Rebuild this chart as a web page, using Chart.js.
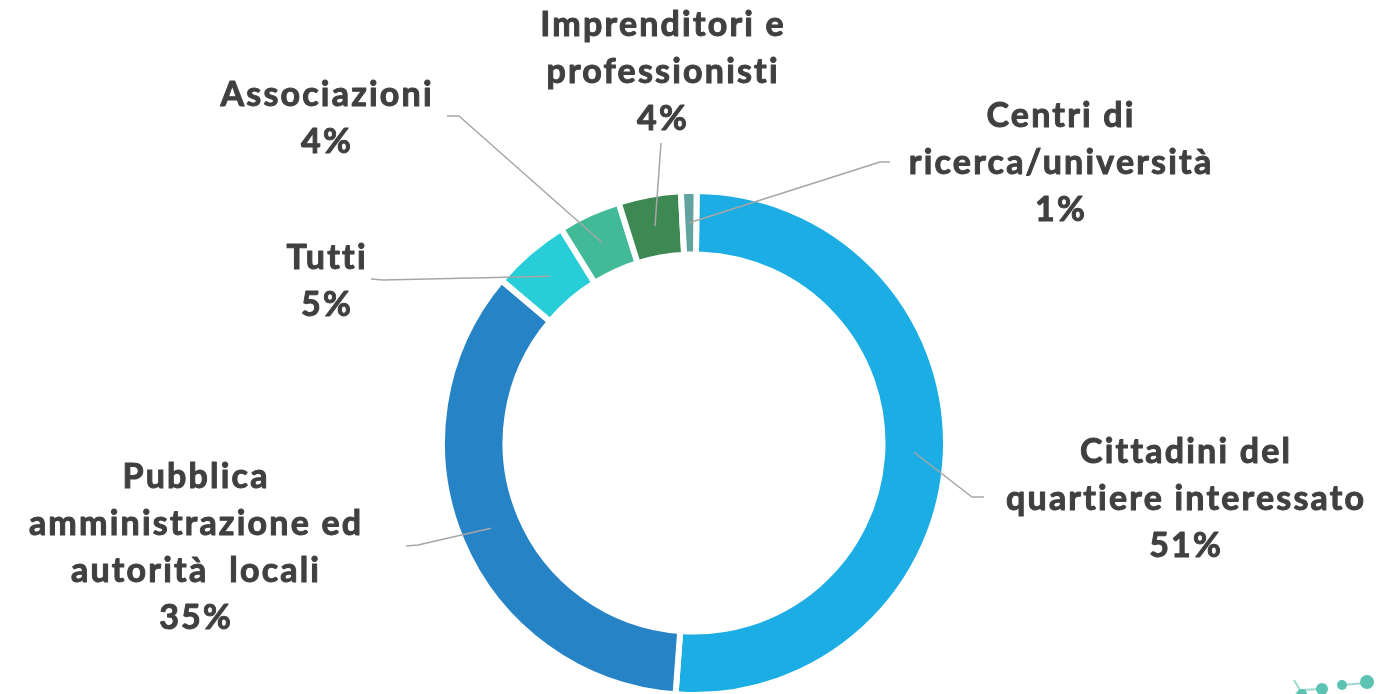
<!DOCTYPE html>
<html>
<head>
<meta charset="utf-8">
<script src="https://cdn.jsdelivr.net/npm/chart.js@4"></script>
<style>
    html, body { margin: 0; padding: 0; background: #ffffff; }
    #wrap { width: 1376px; height: 694px; position: relative; }
</style>
</head>
<body>
<div id="wrap"><canvas id="donutChart"></canvas></div>
<script>
// Chart data
const categories = [
    'Cittadini del quartiere interessato',
    'Pubblica amministrazione ed autorità  locali',
    'Tutti',
    'Associazioni',
    'Imprenditori e professionisti',
    'Centri di ricerca/università'
];
const shares = [51, 35, 5, 4, 4, 1];
const sliceColors = ['#1CADE4', '#2683C6', '#27CED7', '#42BA97', '#3E8853', '#62A39F'];

// How each label is broken into lines
const labelLines = [
    ['Cittadini del', 'quartiere interessato'],
    ['Pubblica', 'amministrazione ed', 'autorità  locali'],
    ['Tutti'],
    ['Associazioni'],
    ['Imprenditori e', 'professionisti'],
    ['Centri di', 'ricerca/università']
];

// Label layout: block centre, leader elbow and leader end
const labelLayout = [
    { x: 1185, y: 499, elbow: [972, 497], end: [984, 497] },
    { x: 195, y: 548, elbow: [418, 545], end: [406, 546] },
    { x: 326, y: 282, elbow: [383, 280], end: [371, 279] },
    { x: 326, y: 119, elbow: [459, 116], end: [447, 116] },
    { x: 662, y: 72, elbow: [661, 143], end: [661, 143] },
    { x: 1060, y: 163, elbow: [880, 162], end: [890, 162] }
];

const LINE_HEIGHT = 47;
const FONT = 'bold 34px Lato';
const LETTER_SPACING = 2.2;

// Draws leader lines and the category/percent labels
const calloutPlugin = {
    id: 'callouts',
    afterDatasetsDraw(chart) {
        const ctx = chart.ctx;
        const meta = chart.getDatasetMeta(0);
        const total = shares.reduce((a, b) => a + b, 0);

        ctx.save();
        meta.data.forEach((arc, i) => {
            const lay = labelLayout[i];
            const start = arc.getCenterPoint();

            ctx.strokeStyle = '#A6A6A6';
            ctx.lineWidth = 1.5;
            ctx.beginPath();
            ctx.moveTo(start.x, start.y);
            ctx.lineTo(lay.elbow[0], lay.elbow[1]);
            ctx.lineTo(lay.end[0], lay.end[1]);
            ctx.stroke();

            const lines = labelLines[i].concat([Math.round(shares[i] / total * 100) + '%']);
            ctx.fillStyle = '#404040';
            ctx.strokeStyle = '#404040';
            ctx.lineWidth = 1;
            ctx.lineJoin = 'round';
            ctx.font = FONT;
            ctx.letterSpacing = LETTER_SPACING + 'px';
            ctx.textAlign = 'center';
            ctx.textBaseline = 'middle';
            const top = lay.y - (lines.length - 1) * LINE_HEIGHT / 2;
            lines.forEach((txt, j) => {
                // shift by half the trailing spacing so the block stays centred
                const tx = lay.x + LETTER_SPACING / 2;
                const ty = top + j * LINE_HEIGHT;
                ctx.fillText(txt, tx, ty);
                ctx.strokeText(txt, tx, ty);
            });
        });
        ctx.restore();
    }
};

// Small logo fragment in the lower right corner
const logoPlugin = {
    id: 'logo',
    afterDraw(chart) {
        const ctx = chart.ctx;
        ctx.save();
        ctx.strokeStyle = '#9ED8CF';
        ctx.lineWidth = 2;
        ctx.beginPath();
        ctx.moveTo(1294, 680);
        ctx.lineTo(1300, 690);
        ctx.lineTo(1322, 689);
        ctx.moveTo(1300, 690);
        ctx.lineTo(1296, 694);
        ctx.moveTo(1342, 685);
        ctx.lineTo(1366, 683);
        ctx.stroke();
        ctx.fillStyle = '#5CC2B2';
        [[1322, 689, 6], [1342, 685, 5], [1367, 682, 7], [1302, 694, 5]].forEach(c => {
            ctx.beginPath();
            ctx.arc(c[0], c[1], c[2], 0, Math.PI * 2);
            ctx.fill();
        });
        ctx.restore();
    }
};

const ctx = document.getElementById('donutChart').getContext('2d');
const myChart = new Chart(ctx, {
    type: 'doughnut',
    data: {
        labels: categories,
        datasets: [{
            data: shares,
            backgroundColor: sliceColors,
            borderColor: '#ffffff',
            borderWidth: 6,
            borderAlign: 'center',
            clip: false
        }]
    },
    options: {
        responsive: true,
        maintainAspectRatio: false,
        animation: false,
        rotation: 0.6,
        radius: 252,
        cutout: '74.8%',
        layout: {
            padding: { left: 12, right: 0, top: 192, bottom: 0 }
        },
        plugins: {
            legend: { display: false },
            tooltip: { enabled: false }
        }
    },
    plugins: [calloutPlugin, logoPlugin]
});
</script>
</body>
</html>
